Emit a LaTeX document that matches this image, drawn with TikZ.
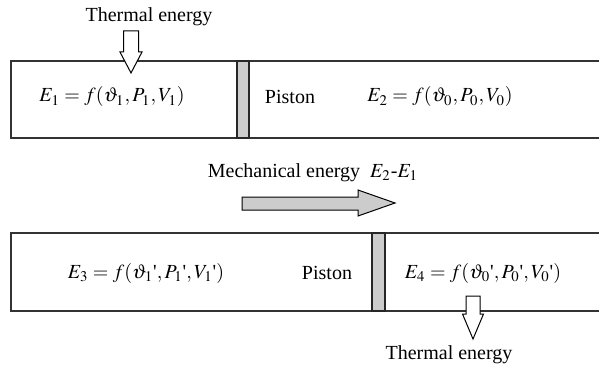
\documentclass[tikz,border=0pt]{standalone}
\usepackage{amsmath}
\usepackage{mathptmx}
\usepackage{fontspec}
\setmainfont{Liberation Serif}
\usepackage{tikz}

\newcommand{\pr}{\text{\textquotesingle}}

\tikzset{
  wall/.style={line width=1pt, draw=black!80},
  pistonbar/.style={fill=black!20, draw=black!85, line width=1pt},
  heatarrow/.style={fill=white, draw=black, line width=0.5pt},
  workarrow/.style={fill=black!20, draw=black, line width=0.5pt},
  lbl/.style={font=\fontsize{10}{12}\selectfont, inner sep=0pt},
}

\begin{document}
\begin{tikzpicture}[x=0.5pt, y=-0.5pt]
    \useasboundingbox (0,0) rectangle (599,369);

    % Zylinder oben
    \draw[wall] (599,61) -- (11,61) -- (11,138) -- (599,138);
    \draw[pistonbar] (237,61) rectangle (249,138);
    \node[lbl] (eone) at (112,97) {$E_1 = f(\vartheta_1, P_1,V_1)$};
    \node[lbl] (pistonA) at (290,97) {Piston};
    \node[lbl] (etwo) at (440,97) {$E_2 = f(\vartheta_0, P_0,V_0)$};

    % Waermezufuhr
    \node[lbl] (heatin) at (149,17) {Thermal energy};
    \draw[heatarrow] (123.5,31) -- (138.5,31) -- (138.5,52) -- (142,52) -- (131,73)
        -- (120,52) -- (123.5,52) -- cycle;

    % Arbeit
    \node[lbl] (work) at (313,173) {Mechanical energy~~$E_2$-$E_1$};
    \draw[workarrow] (242,197) -- (358,197) -- (358,190) -- (395,203) -- (358,216)
        -- (358,210) -- (242,210) -- cycle;

    % Zylinder unten
    \draw[wall] (599,233) -- (11,233) -- (11,311) -- (599,311);
    \draw[pistonbar] (372,233) rectangle (385,311);
    \node[lbl] (ethree) at (146,273) {$E_3 = f(\vartheta_1\pr, P_1\pr,V_1\pr)$};
    \node[lbl] (pistonB) at (327,273) {Piston};
    \node[lbl] (efour) at (483,273) {$E_4 = f(\vartheta_0\pr, P_0\pr,V_0\pr)$};

    % Waermeabfuhr
    \draw[heatarrow] (466,296) -- (480,296) -- (480,314) -- (483.5,314) -- (473,339)
        -- (462.5,314) -- (466,314) -- cycle;
    \node[lbl] (heatout) at (449,355) {Thermal energy};
\end{tikzpicture}
\end{document}
